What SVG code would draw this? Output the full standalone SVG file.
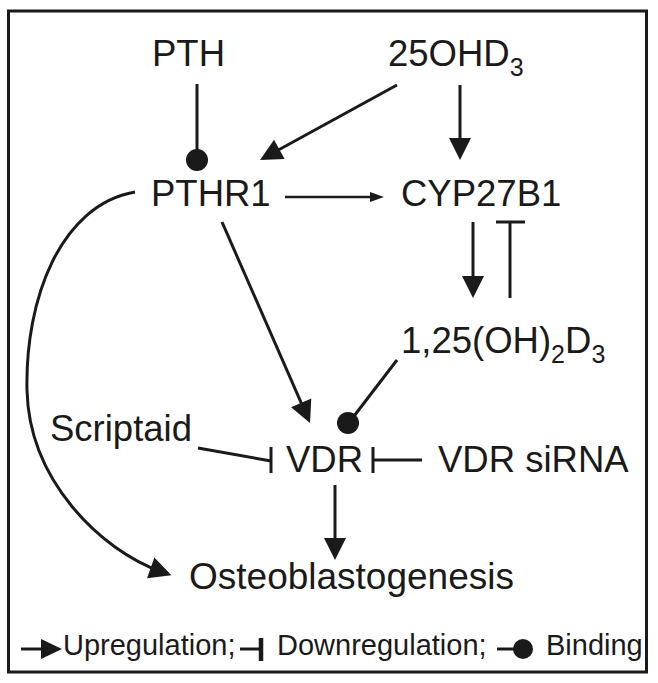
<svg xmlns="http://www.w3.org/2000/svg" width="658" height="683" viewBox="0 0 658 683">
<style>
text{font-family:"Liberation Sans",Arial,sans-serif;fill:#1a1a1a}
.n{font-size:36.5px}
.s{font-size:25px}
.lg{font-size:29px}
.c{fill:none;stroke:#1a1a1a;stroke-width:3}
.t{fill:none;stroke:#1a1a1a;stroke-width:2.5}
.dot{fill:#1a1a1a}
</style>
<defs>
<marker id="ah" markerUnits="userSpaceOnUse" markerWidth="22" markerHeight="22" refX="12" refY="11" orient="auto" overflow="visible"><path d="M0,0 L22,11 L0,22 z" fill="#1a1a1a"/></marker>
<marker id="ahs" markerUnits="userSpaceOnUse" markerWidth="14" markerHeight="10" refX="8" refY="5" orient="auto" overflow="visible"><path d="M0,0 L14,5 L0,10 z" fill="#1a1a1a"/></marker>
</defs>
<rect x="8.5" y="11" width="638" height="661" fill="#fff" stroke="#1a1a1a" stroke-width="3"/>
<g id="PTH"><text class="n" x="152" y="66">PTH</text></g>
<g id="OHD3"><text class="n" x="388" y="66">25OHD<tspan class="s" dy="10">3</tspan></text></g>
<g id="PTHR1"><text class="n" x="151" y="206">PTHR1</text></g>
<g id="CYP27B1"><text class="n" x="401" y="206">CYP27B1</text></g>
<g id="D3"><text class="n" x="401" y="353">1,25(OH)<tspan class="s" dy="10">2</tspan><tspan dy="-10">D</tspan><tspan class="s" dy="10">3</tspan></text></g>
<g id="Scriptaid"><text class="n" x="50" y="441">Scriptaid</text></g>
<g id="VDR"><text class="n" x="286" y="472">VDR</text></g>
<g id="siRNA"><text class="n" x="438" y="472">VDR siRNA</text></g>
<g id="Osteo"><text class="n" x="189" y="589" style="font-size:37px">Osteoblastogenesis</text></g>
<g id="connectors">
<line class="c" x1="197" y1="84" x2="197" y2="155"/>
<circle class="dot" cx="197" cy="160" r="11"/>
<line class="c" x1="397" y1="85" x2="268.8" y2="155.2" marker-end="url(#ah)"/>
<line class="c" x1="460" y1="85" x2="460" y2="150" marker-end="url(#ah)"/>
<line class="t" x1="285" y1="197" x2="378" y2="197" marker-end="url(#ahs)"/>
<line class="c" x1="473" y1="222" x2="473" y2="288" marker-end="url(#ah)"/>
<line class="c" x1="510" y1="298" x2="510" y2="222"/>
<line class="c" x1="496" y1="222" x2="525" y2="222"/>
<line class="c" x1="222" y1="222" x2="306" y2="413.8" marker-end="url(#ah)"/>
<line class="c" x1="397" y1="360" x2="351" y2="420"/>
<circle class="dot" cx="348" cy="423" r="11"/>
<line class="c" x1="198" y1="448" x2="271" y2="461"/>
<line class="c" x1="271" y1="447" x2="271" y2="473"/>
<line class="c" x1="422" y1="460" x2="373" y2="460"/>
<line class="c" x1="373" y1="447" x2="373" y2="473"/>
<line class="c" x1="335" y1="485" x2="335" y2="550" marker-end="url(#ah)"/>
<path class="c" d="M135 192 C60 205 25 300 27 390 C29 480 100 550 162 572" marker-end="url(#ah)"/>
</g>
<g id="legend">
<line class="c" x1="21" y1="649" x2="44" y2="649"/>
<path d="M41,639 L62,649 L41,659 z" class="dot"/>
<text class="lg" x="63" y="655">Upregulation;</text>
<line class="c" x1="240" y1="649" x2="260" y2="649"/>
<line x1="261" y1="638" x2="261" y2="661" stroke="#1a1a1a" stroke-width="4.5"/>
<text class="lg" x="277" y="655">Downregulation;</text>
<line class="c" x1="497" y1="649" x2="514" y2="649"/>
<circle class="dot" cx="523" cy="649" r="10"/>
<text class="lg" x="546" y="655">Binding</text>
</g>
</svg>
